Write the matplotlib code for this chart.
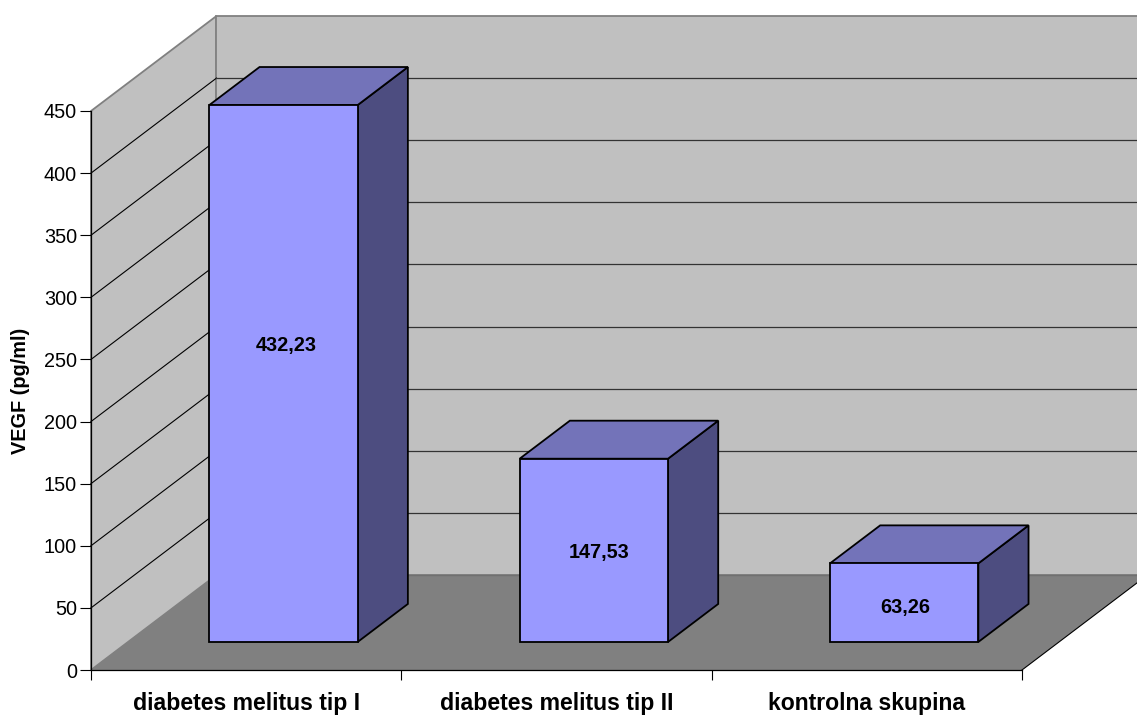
import matplotlib
matplotlib.use("Agg")
import matplotlib.pyplot as plt
from matplotlib.patches import Polygon

categories = ["diabetes melitus tip I", "diabetes melitus tip II", "kontrolna skupina"]
values = [432.23, 147.53, 63.26]
value_labels = ["432,23", "147,53", "63,26"]
y_ticks = [0, 50, 100, 150, 200, 250, 300, 350, 400, 450]

# oblique depth of the excel style 3d box, in axis units
DEPTH_X = 0.4044
DEPTH_Y = 76.5
BAR_WIDTH = 0.478
BAR_D0, BAR_D1 = 0.295, 0.695

WALL = "#C0C0C0"
FLOOR = "#808080"
FRONT = "#9999FF"
TOP = "#7373B9"
SIDE = "#4D4D80"

plt.rcParams["font.family"] = ["Liberation Sans", "DejaVu Sans"]

W, H = 1137, 716
fig = plt.figure(figsize=(W / 100, H / 100), dpi=100)
ax = fig.add_axes([91 / W, (H - 670) / H, 931 / W, 559 / H])
ax.set_xlim(0, 3)
ax.set_ylim(0, 450)
ax.patch.set_visible(False)


def proj(x, y, d):
    return (x + d * DEPTH_X, y + d * DEPTH_Y)


def face(points, color, edge, lw, z):
    ax.add_patch(Polygon(points, closed=True, facecolor=color, edgecolor=edge,
                         linewidth=lw, clip_on=False, zorder=z, joinstyle="miter"))


# walls and floor
face([proj(0, 0, 0), proj(0, 450, 0), proj(0, 450, 1), proj(0, 0, 1)], WALL, "#808080", 1.3, 1)
face([proj(0, 0, 1), proj(0, 450, 1), proj(3, 450, 1), proj(3, 0, 1)], WALL, "#808080", 1.3, 1)

# gridlines
for t in y_ticks[1:-1]:
    ax.plot(*zip(proj(0, t, 0), proj(0, t, 1)), color="black", lw=0.8, clip_on=False, zorder=2)
    ax.plot(*zip(proj(0, t, 1), proj(3, t, 1)), color="#333333", lw=0.9, clip_on=False, zorder=2)

face([proj(0, 0, 0), proj(3, 0, 0), proj(3, 0, 1), proj(0, 0, 1)], FLOOR, "none", 0, 3)
ax.plot(*zip(proj(3, 0, 0), proj(3, 0, 1)), color="black", lw=0.8, clip_on=False, zorder=3)
ax.plot(*zip(proj(0, 0, 1), proj(3, 0, 1)), color="#707070", lw=1.0, clip_on=False, zorder=3)

# labels do not sit exactly in the middle of the front face, nudge in points
nudges = [(2, 20), (4, -1.5), (0.5, -3.5)]

# bars
for i, v in enumerate(values):
    x0 = i + (1 - BAR_WIDTH) / 2 + 0.001
    x1 = x0 + BAR_WIDTH
    z = 4 + i
    face([proj(x1, 0, BAR_D0), proj(x1, v, BAR_D0), proj(x1, v, BAR_D1), proj(x1, 0, BAR_D1)],
         SIDE, "black", 1.3, z)
    face([proj(x0, v, BAR_D0), proj(x0, v, BAR_D1), proj(x1, v, BAR_D1), proj(x1, v, BAR_D0)],
         TOP, "black", 1.3, z)
    face([proj(x0, 0, BAR_D0), proj(x1, 0, BAR_D0), proj(x1, v, BAR_D0), proj(x0, v, BAR_D0)],
         FRONT, "black", 1.3, z)
    ax.annotate(value_labels[i], xy=proj(x0 + BAR_WIDTH / 2, v / 2, BAR_D0), xytext=nudges[i],
                textcoords="offset points", ha="center", va="center", fontsize=14.3,
                fontweight="bold", color="black", zorder=10)

# axes
for s in ["top", "right"]:
    ax.spines[s].set_visible(False)
ax.spines["left"].set_linewidth(0.9)
ax.spines["bottom"].set_linewidth(0.9)
ax.spines["left"].set_zorder(9)
ax.spines["bottom"].set_zorder(9)

ax.set_yticks(y_ticks)
ax.tick_params(axis="y", length=8, width=0.8, labelsize=14.3, pad=2)
ax.set_xticks([0, 1, 2, 3])
ax.set_xticklabels([])
ax.tick_params(axis="x", which="major", length=7.5, width=0.8)
ax.set_xticks([0.5, 1.5, 2.5], minor=True)
ax.set_xticklabels(categories, minor=True, fontsize=16.6, fontweight="bold")
ax.tick_params(axis="x", which="minor", length=0, pad=15.5)

fig.text(20 / W, 1 - 391 / H, "VEGF (pg/ml)", rotation=90, ha="center", va="center",
         fontsize=14.3, fontweight="bold")

fig.savefig("out.png", dpi=100, facecolor="white")
